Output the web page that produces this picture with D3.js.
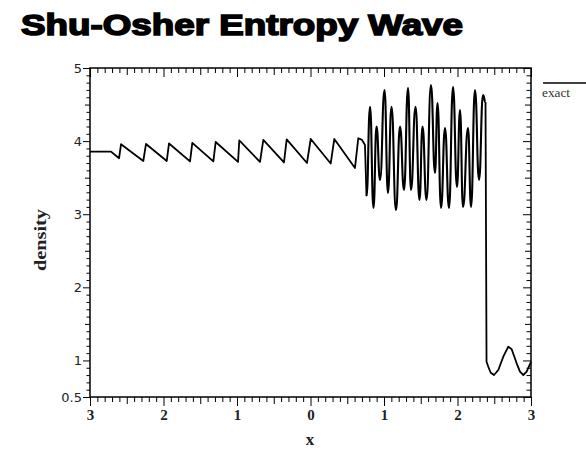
<!DOCTYPE html>
<html><head><meta charset="utf-8">
<script src="https://cdn.jsdelivr.net/npm/d3@7"></script>
<style>html,body{margin:0;padding:0;background:#fff;}svg{display:block;}</style>
</head><body>
<svg id="chart" width="586" height="451"></svg>
<script>
// ---- data ----
const title = "Shu-Osher Entropy Wave";
const xLabel = "x";
const yLabel = "density";
const legendLabel = "exact";
const xTickValues = [-3, -2, -1, 0, 1, 2, 3];
const xTickLabels = ["3", "2", "1", "0", "1", "2", "3"];
const yTickValues = [0.5, 1, 2, 3, 4, 5];
const yTickLabels = ["0.5", "1", "2", "3", "4", "5"];
// smooth part behind the oscillations (sawtooth)
const sawX = [
  -3.000, -2.714, -2.605, -2.578, -2.275, -2.238, -1.956, -1.925, -1.639, -1.608,
  -1.322, -1.290, -0.986, -0.969, -0.687, -0.642, -0.361, -0.324, -0.048, 0.003,
  0.275, 0.324, 0.605, 0.650, 0.701, 0.741, 0.762
];
const sawY = [
  3.857, 3.857, 3.765, 3.957, 3.728, 3.961, 3.728, 3.968, 3.722, 3.975,
  3.722, 3.988, 3.715, 4.009, 3.715, 4.016, 3.708, 4.023, 3.701, 4.029,
  3.694, 4.029, 3.633, 4.039, 4.016, 3.947, 3.250
];
// high-frequency oscillations
const oscX = [
  0.762, 0.810, 0.857, 0.898, 0.946, 1.007, 1.054, 1.102, 1.163, 1.218,
  1.272, 1.327, 1.367, 1.429, 1.483, 1.524, 1.578, 1.639, 1.694, 1.728,
  1.776, 1.830, 1.884, 1.939, 1.993, 2.034, 2.075, 2.143, 2.184, 2.238,
  2.293, 2.347, 2.381
];
const oscY = [
  3.250, 4.471, 3.085, 4.198, 3.469, 4.699, 3.291, 4.471, 3.058, 4.198,
  3.332, 4.726, 3.332, 4.471, 3.195, 4.198, 3.195, 4.767, 3.564, 4.522,
  3.085, 4.180, 3.085, 4.740, 3.373, 4.426, 3.099, 4.180, 3.099, 4.699,
  3.469, 4.630, 4.535
];
// shock and pre-shock wave
const preX = [
  2.381, 2.395, 2.419, 2.452, 2.497, 2.555, 2.623, 2.691, 2.737, 2.805,
  2.850, 2.895, 2.941, 3.000
];
const preY = [
  4.535, 0.983, 0.914, 0.832, 0.801, 0.869, 1.051, 1.188, 1.153, 0.961,
  0.846, 0.801, 0.846, 0.979
];

// ---- layout ----
const svg = d3.select("#chart");
const L = 90, R = 531, T = 68, B = 397;
const x = d3.scaleLinear().domain([-3, 3]).range([L, R]);
const y = d3.scaleLinear().domain([0.5, 5]).range([B, T]);

// title
svg.append("text")
  .attr("x", 21).attr("y", 35)
  .attr("textLength", 442).attr("lengthAdjust", "spacingAndGlyphs")
  .style("font-family", "'Liberation Sans', Arial, sans-serif")
  .style("font-weight", "900").style("font-size", "30px")
  .style("stroke", "#000").style("stroke-width", "1.6px")
  .attr("fill", "#000").text(title);

const xMinor = d3.range(-30, 31).map(i => i / 10);
const yMinor = d3.range(5, 51).map(i => i / 10);
const xLen = d => { const k = Math.round(d * 10); return k % 10 === 0 ? 9 : (k % 5 === 0 ? 7 : 5); };
const yLen = d => { const k = Math.round(d * 10); return (k % 10 === 0 || k === 5) ? 7 : (k % 5 === 0 ? 5 : 3.5); };
const xFmt = d => { const i = xTickValues.findIndex(v => Math.abs(v - d) < 1e-6); return i >= 0 ? xTickLabels[i] : ""; };
const yFmt = d => { const i = yTickValues.findIndex(v => Math.abs(v - d) < 1e-6); return i >= 0 ? yTickLabels[i] : ""; };

function style(g) {
  g.select(".domain").remove();
  g.selectAll(".tick line").attr("stroke", "#000").attr("stroke-width", 1);
}

// bottom axis (ticks pointing down)
const gB = svg.append("g").attr("transform", `translate(0,${B})`)
  .call(d3.axisBottom(x).tickValues(xMinor).tickSizeOuter(0).tickFormat(xFmt));
style(gB);
gB.selectAll(".tick line").attr("y2", d => xLen(d));
gB.selectAll(".tick text").attr("y", 12).attr("dy", "0.71em")
  .style("font-family", "'Liberation Serif', 'Times New Roman', serif")
  .style("font-size", "15px").style("font-weight", "bold").attr("fill", "#222");

// top axis (ticks pointing down, inside)
const gT = svg.append("g").attr("transform", `translate(0,${T})`)
  .call(d3.axisBottom(x).tickValues(xMinor).tickSizeOuter(0).tickFormat(""));
style(gT);
gT.selectAll(".tick line").attr("y2", d => xLen(d));

// left axis (ticks pointing left)
const gL = svg.append("g").attr("transform", `translate(${L},0)`)
  .call(d3.axisLeft(y).tickValues(yMinor).tickSizeOuter(0).tickFormat(yFmt));
style(gL);
gL.selectAll(".tick line").attr("x2", d => -yLen(d));
gL.selectAll(".tick text").attr("x", -8)
  .style("font-family", "'DejaVu Sans', sans-serif")
  .style("font-size", "13px").attr("fill", "#222");

// right axis (ticks pointing left, inside)
const gR = svg.append("g").attr("transform", `translate(${R},0)`)
  .call(d3.axisLeft(y).tickValues(yMinor).tickSizeOuter(0).tickFormat(""));
style(gR);
gR.selectAll(".tick line").attr("x2", d => -(yLen(d) + 1));

// frame
svg.append("rect").attr("x", L).attr("y", T).attr("width", R - L).attr("height", B - T)
  .attr("fill", "none").attr("stroke", "#000").attr("stroke-width", 1.5);

// data lines
const lineLin = d3.line().x(d => x(d[0])).y(d => y(d[1]));
const lineBump = d3.line().x(d => x(d[0])).y(d => y(d[1])).curve(d3.curveBumpX);
const addPath = (xs, ys, gen, w) => svg.append("path")
  .datum(xs.map((v, i) => [v, ys[i]]))
  .attr("fill", "none").attr("stroke", "#000").attr("stroke-width", w)
  .attr("stroke-linejoin", "round").attr("d", gen);
addPath(sawX, sawY, lineLin, 1.8);
addPath(oscX, oscY, lineBump, 2.1);
addPath(preX, preY, lineLin, 1.8);

// axis labels
svg.append("text").attr("x", 310).attr("y", 445).attr("text-anchor", "middle")
  .style("font-family", "'Liberation Serif', serif").style("font-weight", "bold")
  .style("font-size", "17px").attr("fill", "#222").text(xLabel);
svg.append("text").attr("transform", "translate(46,240) rotate(-90)")
  .attr("text-anchor", "middle")
  .attr("textLength", 62).attr("lengthAdjust", "spacingAndGlyphs")
  .style("font-family", "'Liberation Serif', serif").style("font-weight", "bold")
  .style("font-size", "16px").attr("fill", "#222").text(yLabel);

// legend
svg.append("line").attr("x1", 543).attr("x2", 586).attr("y1", 83).attr("y2", 83)
  .attr("stroke", "#000").attr("stroke-width", 1.5);
svg.append("text").attr("x", 542).attr("y", 97)
  .attr("textLength", 28).attr("lengthAdjust", "spacingAndGlyphs")
  .style("font-family", "'Liberation Serif', serif").style("font-size", "12px")
  .attr("fill", "#333").text(legendLabel);
</script>
</body></html>
